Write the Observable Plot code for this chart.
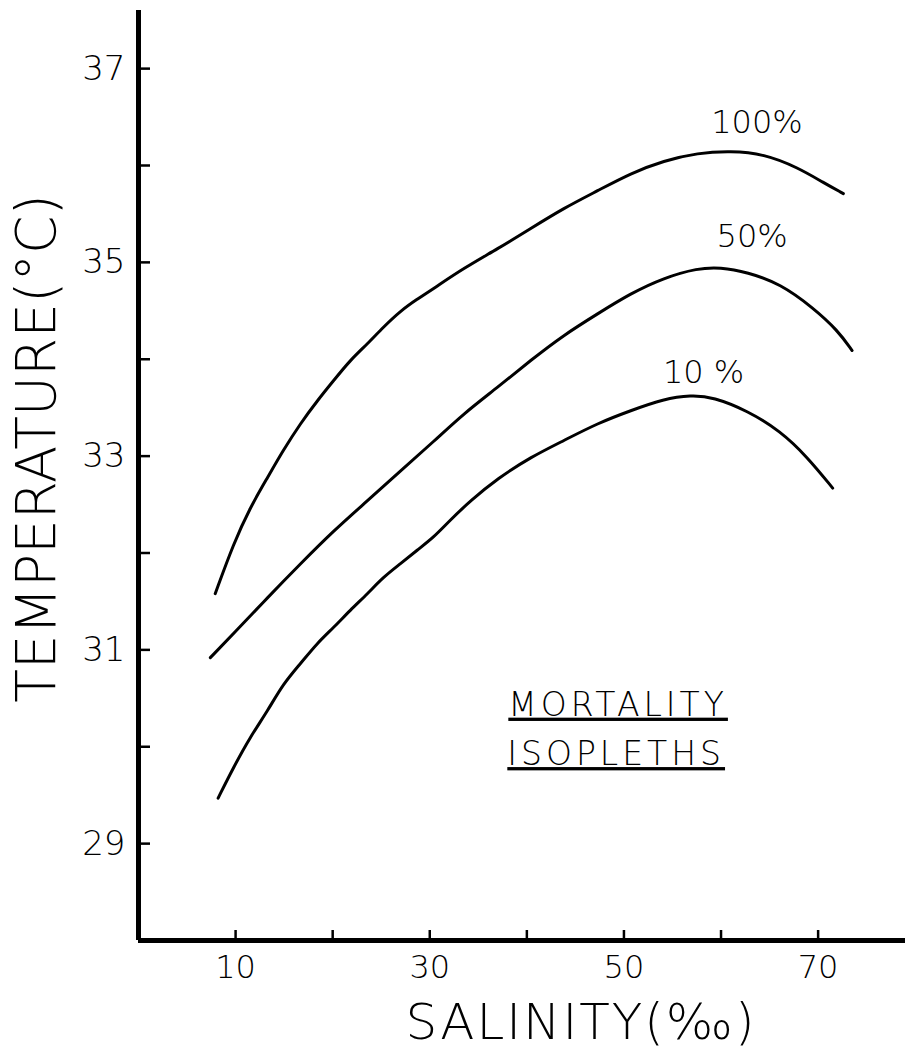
<!DOCTYPE html>
<html>
<head>
<meta charset="utf-8">
<script src="https://cdn.jsdelivr.net/npm/d3@7"></script>
<script src="https://cdn.jsdelivr.net/npm/@observablehq/plot@0.6"></script>
<style>
  html, body { margin: 0; padding: 0; background: #fff; }
  #chart svg text { font-weight: 200; }
  #chart .ul text { text-decoration: underline; text-decoration-thickness: 2px; text-underline-offset: 7px; }
</style>
</head>
<body>
<div id="chart"></div>
<script>
// ---- Data ----
// Salinity (‰) and temperature (°C) along each mortality isopleth
const sal100 = [7.9, 9.8, 11.5, 13.3, 14.9, 16.7, 18.4, 20.1, 21.8, 23.6, 25.2, 27.0, 28.7, 30.4, 33.5, 37.0, 40.4, 43.8, 47.3, 50.7, 54.1, 57.6, 61.0, 64.4, 67.9, 70.6, 72.6];
const temp100 = [31.58, 32.10, 32.47, 32.78, 33.06, 33.34, 33.57, 33.78, 33.99, 34.16, 34.33, 34.50, 34.62, 34.73, 34.94, 35.14, 35.35, 35.56, 35.74, 35.92, 36.05, 36.13, 36.15, 36.12, 35.98, 35.82, 35.71];

const sal50 = [7.4, 9.8, 13.3, 16.7, 20.1, 23.6, 27.0, 30.4, 33.5, 37.0, 40.4, 43.8, 47.3, 50.7, 54.1, 57.6, 59.9, 62.7, 66.1, 69.5, 72.0, 73.5];
const temp50 = [30.92, 31.17, 31.54, 31.89, 32.23, 32.54, 32.85, 33.15, 33.44, 33.71, 33.99, 34.25, 34.47, 34.68, 34.84, 34.94, 34.95, 34.90, 34.78, 34.53, 34.30, 34.09];

const sal10 = [8.2, 9.8, 11.5, 13.3, 14.9, 16.7, 18.4, 20.1, 21.8, 23.6, 25.2, 27.0, 28.7, 30.4, 32.1, 34.2, 37.0, 40.4, 43.8, 47.3, 50.7, 54.1, 56.9, 59.2, 62.7, 66.1, 68.9, 71.5];
const temp10 = [29.47, 29.79, 30.10, 30.37, 30.65, 30.86, 31.07, 31.23, 31.41, 31.58, 31.75, 31.89, 32.03, 32.16, 32.34, 32.54, 32.77, 32.99, 33.16, 33.34, 33.47, 33.59, 33.63, 33.61, 33.47, 33.26, 32.99, 32.67];

const seriesNames = ["100%", "50%", "10%"];
const labelText = ["100%", "50%", "10 %"];
const labelSal = [63.7, 63.2, 58.2];
const labelTemp = [36.44, 35.26, 33.86];

const noteText = ["MORTALITY", "ISOPLETHS"];
const noteSal = [49.4, 49.2];
const noteTemp = [30.43, 29.92];

const xTicks = [10, 20, 30, 40, 50, 60, 70];
const xTickLabels = [10, 30, 50, 70];
const yTicks = [29, 30, 31, 32, 33, 34, 35, 36, 37];
const yTickLabels = [29, 31, 33, 35, 37];

const xTitle = "SALINITY(‰)";
const yTitle = "TEMPERATURE(°C)";

// ---- Build tables ----
const seriesX = [sal100, sal50, sal10];
const seriesY = [temp100, temp50, temp10];
const rows = seriesNames.flatMap((name, i) =>
  seriesX[i].map((s, j) => ({series: name, s, t: seriesY[i][j]})));
const curveLabels = labelText.map((text, i) => ({text, s: labelSal[i], t: labelTemp[i]}));
const notes = noteText.map((text, i) => ({text, s: noteSal[i], t: noteTemp[i]}));

const font = "'DejaVu Sans', 'Liberation Sans', sans-serif";

const chart = Plot.plot({
  width: 906,
  height: 1060,
  marginLeft: 138,
  marginRight: 1,
  marginTop: 10,
  marginBottom: 120,
  x: {domain: [0, 79]},
  y: {domain: [28, 37.6]},
  style: {fontFamily: font, background: "#fff", color: "#000", overflow: "visible"},
  marks: [
    // inward tick marks
    Plot.axisY({ticks: yTicks, tickSize: -12, tickFormat: () => "", label: null, strokeWidth: 2.5}),
    Plot.axisX({ticks: xTicks, tickSize: -10, tickFormat: () => "", label: null, strokeWidth: 2.5}),
    // tick labels
    Plot.axisY({ticks: yTickLabels, tickSize: 0, tickPadding: 13, fontSize: 34, label: null}),
    Plot.axisX({ticks: xTickLabels, tickSize: 0, tickPadding: 15, fontSize: 32, label: null}),
    // heavy axis lines
    Plot.ruleX([0], {strokeWidth: 5}),
    Plot.ruleY([28], {strokeWidth: 5}),
    // isopleths
    Plot.line(rows, {x: "s", y: "t", z: "series", curve: "basis", stroke: "#000", strokeWidth: 3}),
    Plot.text(curveLabels, {x: "s", y: "t", text: "text", fontSize: 32, fill: "#000"}),
    Plot.text(notes, {x: "s", y: "t", text: "text", fontSize: 33, fill: "#000", className: "ul"}),
    // axis titles
    Plot.text([yTitle], {frameAnchor: "left", textAnchor: "middle", lineAnchor: "middle", rotate: -90, dx: -101, dy: -27, fontSize: 55, fill: "#000"}),
    Plot.text([xTitle], {frameAnchor: "bottom", textAnchor: "middle", lineAnchor: "middle", dx: 59, dy: 82, fontSize: 50, fill: "#000", className: "xt"})
  ]
});
document.getElementById("chart").appendChild(chart);
d3.select(chart).selectAll(".ul text").style("letter-spacing", "4px");
d3.select(chart).selectAll(".xt text").style("letter-spacing", "2px");
</script>
</body>
</html>
